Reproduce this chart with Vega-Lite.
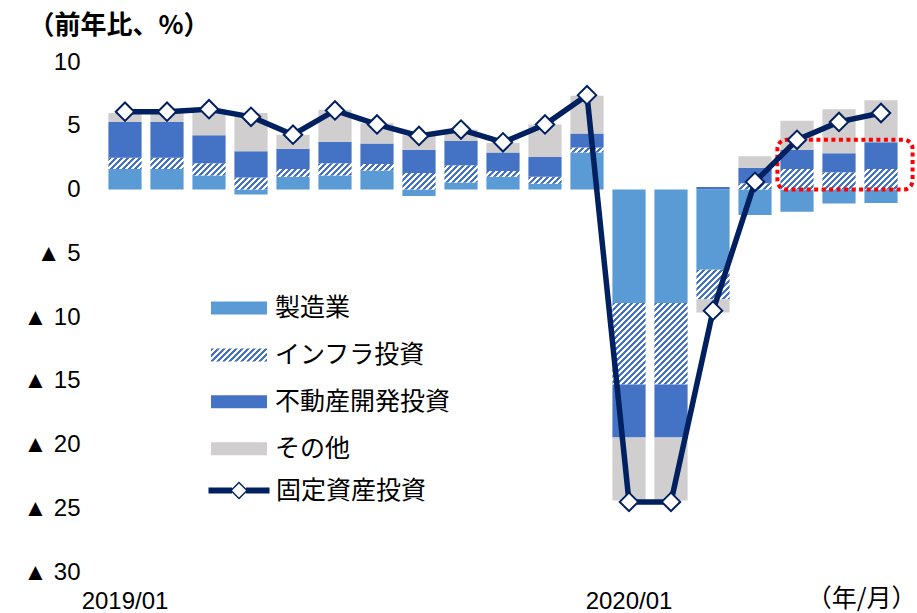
{
  "$schema": "https://vega.github.io/schema/vega-lite/v6.json",
  "width": 798,
  "height": 510,
  "autosize": {"type": "none"},
  "padding": {"left": 104, "top": 62, "right": 15, "bottom": 41},
  "background": "white",
  "config": {
    "view": {"stroke": null},
    "font": "Liberation Sans",
    "axis": {"grid": false, "domain": false, "ticks": false, "labelColor": "#000", "labelFont": "Liberation Sans", "labelFontSize": 24, "titleColor": "#000"}
  },
  "params": [
    {"name": "hatchStops", "value": [
      {"offset": 0, "color": "#4472c4"}, {"offset": 0.025, "color": "#4472c4"}, {"offset": 0.025, "color": "#ffffff"}, {"offset": 0.05, "color": "#ffffff"},
      {"offset": 0.05, "color": "#4472c4"}, {"offset": 0.075, "color": "#4472c4"}, {"offset": 0.075, "color": "#ffffff"}, {"offset": 0.1, "color": "#ffffff"},
      {"offset": 0.1, "color": "#4472c4"}, {"offset": 0.125, "color": "#4472c4"}, {"offset": 0.125, "color": "#ffffff"}, {"offset": 0.15, "color": "#ffffff"},
      {"offset": 0.15, "color": "#4472c4"}, {"offset": 0.175, "color": "#4472c4"}, {"offset": 0.175, "color": "#ffffff"}, {"offset": 0.2, "color": "#ffffff"},
      {"offset": 0.2, "color": "#4472c4"}, {"offset": 0.225, "color": "#4472c4"}, {"offset": 0.225, "color": "#ffffff"}, {"offset": 0.25, "color": "#ffffff"},
      {"offset": 0.25, "color": "#4472c4"}, {"offset": 0.275, "color": "#4472c4"}, {"offset": 0.275, "color": "#ffffff"}, {"offset": 0.3, "color": "#ffffff"},
      {"offset": 0.3, "color": "#4472c4"}, {"offset": 0.325, "color": "#4472c4"}, {"offset": 0.325, "color": "#ffffff"}, {"offset": 0.35, "color": "#ffffff"},
      {"offset": 0.35, "color": "#4472c4"}, {"offset": 0.375, "color": "#4472c4"}, {"offset": 0.375, "color": "#ffffff"}, {"offset": 0.4, "color": "#ffffff"},
      {"offset": 0.4, "color": "#4472c4"}, {"offset": 0.425, "color": "#4472c4"}, {"offset": 0.425, "color": "#ffffff"}, {"offset": 0.45, "color": "#ffffff"},
      {"offset": 0.45, "color": "#4472c4"}, {"offset": 0.475, "color": "#4472c4"}, {"offset": 0.475, "color": "#ffffff"}, {"offset": 0.5, "color": "#ffffff"},
      {"offset": 0.5, "color": "#4472c4"}, {"offset": 0.525, "color": "#4472c4"}, {"offset": 0.525, "color": "#ffffff"}, {"offset": 0.55, "color": "#ffffff"},
      {"offset": 0.55, "color": "#4472c4"}, {"offset": 0.575, "color": "#4472c4"}, {"offset": 0.575, "color": "#ffffff"}, {"offset": 0.6, "color": "#ffffff"},
      {"offset": 0.6, "color": "#4472c4"}, {"offset": 0.625, "color": "#4472c4"}, {"offset": 0.625, "color": "#ffffff"}, {"offset": 0.65, "color": "#ffffff"},
      {"offset": 0.65, "color": "#4472c4"}, {"offset": 0.675, "color": "#4472c4"}, {"offset": 0.675, "color": "#ffffff"}, {"offset": 0.7, "color": "#ffffff"},
      {"offset": 0.7, "color": "#4472c4"}, {"offset": 0.725, "color": "#4472c4"}, {"offset": 0.725, "color": "#ffffff"}, {"offset": 0.75, "color": "#ffffff"},
      {"offset": 0.75, "color": "#4472c4"}, {"offset": 0.775, "color": "#4472c4"}, {"offset": 0.775, "color": "#ffffff"}, {"offset": 0.8, "color": "#ffffff"},
      {"offset": 0.8, "color": "#4472c4"}, {"offset": 0.825, "color": "#4472c4"}, {"offset": 0.825, "color": "#ffffff"}, {"offset": 0.85, "color": "#ffffff"},
      {"offset": 0.85, "color": "#4472c4"}, {"offset": 0.875, "color": "#4472c4"}, {"offset": 0.875, "color": "#ffffff"}, {"offset": 0.9, "color": "#ffffff"},
      {"offset": 0.9, "color": "#4472c4"}, {"offset": 0.925, "color": "#4472c4"}, {"offset": 0.925, "color": "#ffffff"}, {"offset": 0.95, "color": "#ffffff"},
      {"offset": 0.95, "color": "#4472c4"}, {"offset": 0.975, "color": "#4472c4"}, {"offset": 0.975, "color": "#ffffff"}, {"offset": 1, "color": "#ffffff"}
    ]}
  ],
  "datasets": {
    "bars": [
      {"m": "2019/01", "c": "製造業", "o": 1, "v": 1.6}, {"m": "2019/01", "c": "インフラ投資", "o": 2, "v": 0.9}, {"m": "2019/01", "c": "不動産開発投資", "o": 3, "v": 2.8}, {"m": "2019/01", "c": "その他", "o": 4, "v": 0.7},
      {"m": "2019/02", "c": "製造業", "o": 1, "v": 1.6}, {"m": "2019/02", "c": "インフラ投資", "o": 2, "v": 0.9}, {"m": "2019/02", "c": "不動産開発投資", "o": 3, "v": 2.8}, {"m": "2019/02", "c": "その他", "o": 4, "v": 0.7},
      {"m": "2019/03", "c": "製造業", "o": 1, "v": 1.1}, {"m": "2019/03", "c": "インフラ投資", "o": 2, "v": 0.95}, {"m": "2019/03", "c": "不動産開発投資", "o": 3, "v": 2.2}, {"m": "2019/03", "c": "その他", "o": 4, "v": 1.75},
      {"m": "2019/04", "c": "製造業", "o": 1, "v": -0.4}, {"m": "2019/04", "c": "インフラ投資", "o": 2, "v": 0.95}, {"m": "2019/04", "c": "不動産開発投資", "o": 3, "v": 2.05}, {"m": "2019/04", "c": "その他", "o": 4, "v": 3.0},
      {"m": "2019/05", "c": "製造業", "o": 1, "v": 1.0}, {"m": "2019/05", "c": "インフラ投資", "o": 2, "v": 0.6}, {"m": "2019/05", "c": "不動産開発投資", "o": 3, "v": 1.6}, {"m": "2019/05", "c": "その他", "o": 4, "v": 1.1},
      {"m": "2019/06", "c": "製造業", "o": 1, "v": 1.1}, {"m": "2019/06", "c": "インフラ投資", "o": 2, "v": 0.95}, {"m": "2019/06", "c": "不動産開発投資", "o": 3, "v": 1.7}, {"m": "2019/06", "c": "その他", "o": 4, "v": 2.5},
      {"m": "2019/07", "c": "製造業", "o": 1, "v": 1.5}, {"m": "2019/07", "c": "インフラ投資", "o": 2, "v": 0.5}, {"m": "2019/07", "c": "不動産開発投資", "o": 3, "v": 1.6}, {"m": "2019/07", "c": "その他", "o": 4, "v": 1.6},
      {"m": "2019/08", "c": "製造業", "o": 1, "v": -0.5}, {"m": "2019/08", "c": "インフラ投資", "o": 2, "v": 1.3}, {"m": "2019/08", "c": "不動産開発投資", "o": 3, "v": 1.8}, {"m": "2019/08", "c": "その他", "o": 4, "v": 1.15},
      {"m": "2019/09", "c": "製造業", "o": 1, "v": 0.55}, {"m": "2019/09", "c": "インフラ投資", "o": 2, "v": 1.35}, {"m": "2019/09", "c": "不動産開発投資", "o": 3, "v": 1.9}, {"m": "2019/09", "c": "その他", "o": 4, "v": 0.9},
      {"m": "2019/10", "c": "製造業", "o": 1, "v": 1.0}, {"m": "2019/10", "c": "インフラ投資", "o": 2, "v": 0.45}, {"m": "2019/10", "c": "不動産開発投資", "o": 3, "v": 1.45}, {"m": "2019/10", "c": "その他", "o": 4, "v": 0.75},
      {"m": "2019/11", "c": "製造業", "o": 1, "v": 0.45}, {"m": "2019/11", "c": "インフラ投資", "o": 2, "v": 0.55}, {"m": "2019/11", "c": "不動産開発投資", "o": 3, "v": 1.55}, {"m": "2019/11", "c": "その他", "o": 4, "v": 2.55},
      {"m": "2019/12", "c": "製造業", "o": 1, "v": 2.9}, {"m": "2019/12", "c": "インフラ投資", "o": 2, "v": 0.4}, {"m": "2019/12", "c": "不動産開発投資", "o": 3, "v": 1.1}, {"m": "2019/12", "c": "その他", "o": 4, "v": 2.95},
      {"m": "2020/01", "c": "製造業", "o": 1, "v": -8.9}, {"m": "2020/01", "c": "インフラ投資", "o": 2, "v": -6.4}, {"m": "2020/01", "c": "不動産開発投資", "o": 3, "v": -4.15}, {"m": "2020/01", "c": "その他", "o": 4, "v": -4.95},
      {"m": "2020/02", "c": "製造業", "o": 1, "v": -8.9}, {"m": "2020/02", "c": "インフラ投資", "o": 2, "v": -6.4}, {"m": "2020/02", "c": "不動産開発投資", "o": 3, "v": -4.15}, {"m": "2020/02", "c": "その他", "o": 4, "v": -4.95},
      {"m": "2020/03", "c": "製造業", "o": 1, "v": -6.3}, {"m": "2020/03", "c": "インフラ投資", "o": 2, "v": -2.3}, {"m": "2020/03", "c": "不動産開発投資", "o": 3, "v": 0.2}, {"m": "2020/03", "c": "その他", "o": 4, "v": -1.05},
      {"m": "2020/04", "c": "製造業", "o": 1, "v": -2.0}, {"m": "2020/04", "c": "インフラ投資", "o": 2, "v": 0.5}, {"m": "2020/04", "c": "不動産開発投資", "o": 3, "v": 1.2}, {"m": "2020/04", "c": "その他", "o": 4, "v": 0.9},
      {"m": "2020/05", "c": "製造業", "o": 1, "v": -1.75}, {"m": "2020/05", "c": "インフラ投資", "o": 2, "v": 1.6}, {"m": "2020/05", "c": "不動産開発投資", "o": 3, "v": 1.5}, {"m": "2020/05", "c": "その他", "o": 4, "v": 2.3},
      {"m": "2020/06", "c": "製造業", "o": 1, "v": -1.1}, {"m": "2020/06", "c": "インフラ投資", "o": 2, "v": 1.35}, {"m": "2020/06", "c": "不動産開発投資", "o": 3, "v": 1.5}, {"m": "2020/06", "c": "その他", "o": 4, "v": 3.45},
      {"m": "2020/07", "c": "製造業", "o": 1, "v": -1.05}, {"m": "2020/07", "c": "インフラ投資", "o": 2, "v": 1.6}, {"m": "2020/07", "c": "不動産開発投資", "o": 3, "v": 2.1}, {"m": "2020/07", "c": "その他", "o": 4, "v": 3.3}
    ],
    "line": [
      {"m": "2019/01", "s": "固定資産投資", "v": 6.1}, {"m": "2019/02", "s": "固定資産投資", "v": 6.1}, {"m": "2019/03", "s": "固定資産投資", "v": 6.3},
      {"m": "2019/04", "s": "固定資産投資", "v": 5.7}, {"m": "2019/05", "s": "固定資産投資", "v": 4.3}, {"m": "2019/06", "s": "固定資産投資", "v": 6.2},
      {"m": "2019/07", "s": "固定資産投資", "v": 5.1}, {"m": "2019/08", "s": "固定資産投資", "v": 4.2}, {"m": "2019/09", "s": "固定資産投資", "v": 4.7},
      {"m": "2019/10", "s": "固定資産投資", "v": 3.7}, {"m": "2019/11", "s": "固定資産投資", "v": 5.1}, {"m": "2019/12", "s": "固定資産投資", "v": 7.4},
      {"m": "2020/01", "s": "固定資産投資", "v": -24.5}, {"m": "2020/02", "s": "固定資産投資", "v": -24.5}, {"m": "2020/03", "s": "固定資産投資", "v": -9.5},
      {"m": "2020/04", "s": "固定資産投資", "v": 0.6}, {"m": "2020/05", "s": "固定資産投資", "v": 3.9}, {"m": "2020/06", "s": "固定資産投資", "v": 5.3},
      {"m": "2020/07", "s": "固定資産投資", "v": 6.0}
    ],
    "box": [
      {"s": "2020/05", "e": "2020/07", "top": 3.9, "bot": 0}
    ]
  },
  "encoding": {
    "x": {
      "field": "m", "type": "nominal", "sort": null,
      "scale": {"paddingInner": 0.21, "paddingOuter": 0.105},
      "axis": {
        "labelExpr": "slice(datum.label, 5) === '01' ? datum.label : ''",
        "labelAngle": 0, "labelOverlap": false, "labelPadding": 17,
        "title": "（年/月）", "titleFont": "Noto Sans CJK JP", "titleFontSize": 25, "titleFontWeight": "normal",
        "titleAlign": "right", "titleAnchor": null, "titleX": 812, "titleY": 26, "titleBaseline": "middle"
      }
    }
  },
  "layer": [
    {
      "mark": {"type": "rule", "color": "#d9d9d9", "strokeWidth": 2},
      "encoding": {"y": {"datum": 0, "type": "quantitative"}}
    },
    {
      "data": {"name": "bars"},
      "mark": {"type": "bar"},
      "encoding": {
        "y": {
          "field": "v", "type": "quantitative", "stack": "zero",
          "scale": {"domain": [-30, 10], "nice": false},
          "axis": {
            "values": [-30, -25, -20, -15, -10, -5, 0, 5, 10],
            "labelExpr": "datum.value < 0 ? '▲ ' + (-datum.value) : '' + datum.value",
            "labelPadding": 24,
            "title": "（前年比、%）", "titleFont": "Noto Sans CJK JP", "titleFontSize": 26, "titleFontWeight": "bold",
            "titleAngle": 0, "titleAlign": "left", "titleAnchor": null, "titleX": -76, "titleY": -37, "titleBaseline": "middle"
          }
        },
        "order": {"field": "o", "type": "quantitative"},
        "fill": {
          "field": "c", "type": "nominal",
          "scale": {
            "domain": ["製造業", "インフラ投資", "不動産開発投資", "その他"],
            "range": ["#5b9bd5", {"expr": "{gradient: 'linear', x1: 0, y1: 0, x2: 2.033, y2: 0.472, stops: hatchStops}"}, "#4472c4", "#d0cece"]
          },
          "condition": {
            "test": "datum.c === 'インフラ投資'",
            "value": {"expr": "{gradient: 'linear', x1: 0, y1: 0, x2: 120*bandwidth('x')/(pow(bandwidth('x'),2)+pow(scale('y',datum.v_end)-scale('y',datum.v_start),2)), y2: 120*abs(scale('y',datum.v_end)-scale('y',datum.v_start))/(pow(bandwidth('x'),2)+pow(scale('y',datum.v_end)-scale('y',datum.v_start),2)), stops: hatchStops}"}
          },
          "legend": {
            "orient": "none", "legendX": 107, "legendY": 218, "title": null,
            "direction": "vertical", "columns": 1, "padding": 0,
            "symbolType": "M-1,-0.232H1V0.232H-1Z", "symbolSize": 3136, "symbolStrokeWidth": 0,
            "labelFont": "Noto Sans CJK JP", "labelFontSize": 25, "labelColor": "#000", "labelOffset": 8, "labelLimit": 0, "rowPadding": 5.9
          }
        }
      }
    },
    {
      "data": {"name": "box"},
      "mark": {"type": "rect", "fill": null, "stroke": "#ff0000", "strokeWidth": 4, "strokeDash": [4, 3.5], "cornerRadius": 9, "xOffset": -3, "x2Offset": 15},
      "encoding": {
        "x": {"field": "s", "type": "nominal", "bandPosition": 0},
        "x2": {"field": "e", "bandPosition": 1},
        "y": {"field": "top", "type": "quantitative"},
        "y2": {"field": "bot"}
      }
    },
    {
      "data": {"name": "line"},
      "mark": {"type": "line", "strokeWidth": 5.5},
      "encoding": {
        "y": {"field": "v", "type": "quantitative"},
        "stroke": {
          "field": "s", "type": "nominal",
          "scale": {"range": ["#002060"]},
          "legend": {
            "orient": "none", "legendX": 122.5, "legendY": 416, "title": null,
            "direction": "vertical", "columns": 1, "padding": 0,
            "symbolType": "M-3.05,-0.3H-0.7V0.3H-3.05Z M0.7,-0.3H3.05V0.3H0.7Z M0,-0.9L0.9,0L0,0.9L-0.9,0Z M0,-0.7L-0.7,0L0,0.7L0.7,0Z",
            "symbolSize": 400, "symbolStrokeWidth": 0,
            "labelFont": "Noto Sans CJK JP", "labelFontSize": 25, "labelColor": "#000", "labelOffset": 24.5, "labelLimit": 0,
            "encode": {
              "symbols": {"update": {"fill": {"value": "#002060"}, "stroke": {"value": "transparent"}, "strokeWidth": {"value": 0}}}
            }
          }
        }
      }
    },
    {
      "data": {"name": "line"},
      "mark": {"type": "point", "shape": "diamond", "size": 340, "filled": true, "fill": "#ffffff", "stroke": "#002060", "strokeWidth": 2, "opacity": 1},
      "encoding": {
        "y": {"field": "v", "type": "quantitative"}
      }
    }
  ]
}
